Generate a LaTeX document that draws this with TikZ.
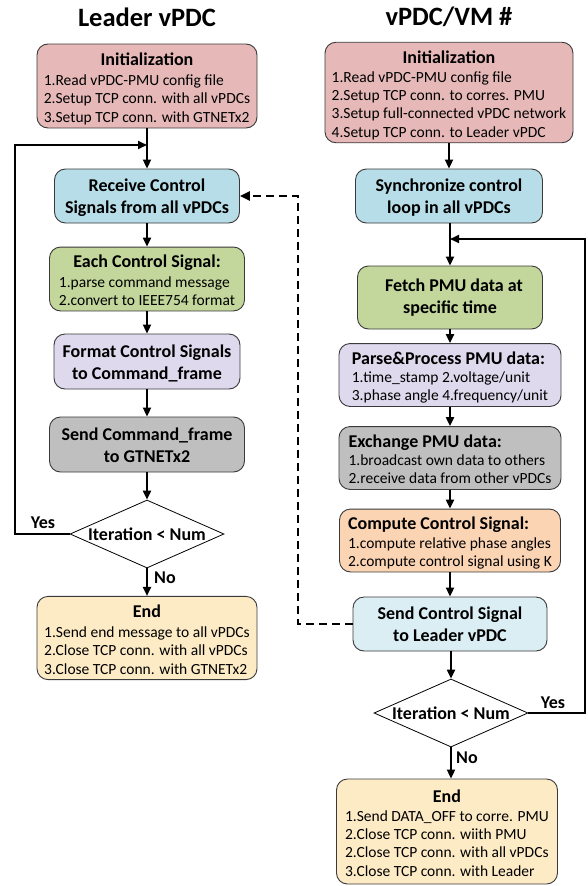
\documentclass[tikz,border=0pt]{standalone}
\usepackage{fontspec}
\setmainfont{Carlito}
\usetikzlibrary{arrows.meta,shapes.geometric}

\definecolor{boxline}{HTML}{3A3A3A}
\definecolor{cpink}{HTML}{E6B9B8}
\definecolor{cblue}{HTML}{B7DDE8}
\definecolor{clblue}{HTML}{DBEEF4}
\definecolor{cgreen}{HTML}{C3D69B}
\definecolor{clav}{HTML}{DED9EC}
\definecolor{cgray}{HTML}{BFBFBF}
\definecolor{cpeach}{HTML}{FBD4B4}
\definecolor{cyellow}{HTML}{FDEBC6}

% heading rows inside a list box (centred / flush left)
\newcommand\hd[1]{\multicolumn{1}{@{}c@{}}{\fontsize{18}{20}\selectfont\bfseries #1}}
\newcommand\hdl[1]{\multicolumn{1}{@{}l@{}}{\fontsize{18}{20}\selectfont\bfseries #1}}
% list body, set a little lower in its box
\newcommand\lst[1]{\raisebox{0pt}[\dimexpr\height+8pt\relax]{\begin{tabular}{@{}l@{}}#1\end{tabular}}}
% two bold lines, set a little lower in their box
\newcommand\two[2]{\raisebox{0pt}[\dimexpr\height+5pt\relax]{\begin{tabular}{@{}c@{}}#1\\#2\end{tabular}}}

\tikzset{
  stepbox/.style={draw=boxline, line width=0.9pt, rounded corners=11pt,
    inner sep=0pt, align=center},
  listbox/.style={stepbox, font=\fontsize{15.5}{18.3}\selectfont},
  boldbox/.style={stepbox, font=\fontsize{18}{22}\selectfont\bfseries},
  decision/.style={draw=black, line width=0.8pt, diamond, inner sep=0pt,
    minimum width=154pt, minimum height=68pt, fill=white,
    font=\fontsize{18}{20}\selectfont\bfseries},
  flow/.style={line width=2pt, -{Triangle[length=9pt,width=8pt]}},
  msg/.style={line width=2.5pt, dash pattern=on 8pt off 5pt,
    -{Triangle[length=10pt,width=9pt]}},
  lbl/.style={font=\fontsize{18}{20}\selectfont\bfseries, inner sep=0pt},
  ttl/.style={font=\fontsize{26.5}{30}\selectfont\bfseries, inner sep=0pt}
}

\begin{document}
\begin{tikzpicture}[x=1pt,y=-1pt]
\useasboundingbox (0,0) rectangle (587,886);

% ---------------- Leader vPDC ----------------
\node[ttl] (tL) at (147,17) {Leader vPDC};

\node[listbox, fill=cpink, minimum width=220pt, minimum height=84pt] (initL) at (147,86)
  {\lst{\hd{Initialization\hspace{10pt}}\\[2pt]
   1.Read vPDC-PMU config file\\
   2.Setup TCP conn. with all vPDCs\\
   3.Setup TCP conn. with GTNETx2}};

\node[boldbox, fill=cblue, minimum width=185pt, minimum height=54pt] (recv) at (147,196)
  {\two{Receive Control}{Signals from all vPDCs}};

\node[listbox, fill=cgreen, minimum width=195pt, minimum height=54pt] (each) at (147,279)
  {\lst{\hd{Each Control Signal:}\\[1pt]
   1.parse command message\\
   2.convert to IEEE754 format}};

\node[boldbox, fill=clav, minimum width=186pt, minimum height=55pt] (fmt) at (147,361.5)
  {\two{Format Control Signals}{to Command\_frame}};

\node[boldbox, fill=cgray, minimum width=195pt, minimum height=55pt] (sendcmd) at (147,444.5)
  {\two{Send Command\_frame}{to GTNETx2}};

\node[decision] (decL) at (147,534) {\makebox[0pt]{Iteration < Num}};

\node[listbox, fill=cyellow, minimum width=220pt, minimum height=82pt] (endL) at (147,638)
  {\lst{\hd{End}\\[2pt]
   1.Send end message to all vPDCs\\
   2.Close TCP conn. with all vPDCs\\
   3.Close TCP conn. with GTNETx2}};

\coordinate (jL) at (147,145);
\draw[flow] (initL) -- (recv);
\draw[flow] (recv) -- (each);
\draw[flow] (each) -- (fmt);
\draw[flow] (fmt) -- (sendcmd);
\draw[flow] (sendcmd) -- (decL);
\draw[flow] (decL) -- (endL);
\draw[flow] (decL.west) -- (15,534) -- (15,145) -- (jL);
\node[lbl] (yesL) at (43,523) {Yes};
\node[lbl] (noL) at (165,578) {No};

% ---------------- vPDC/VM # ----------------
\node[ttl] (tR) at (449,17) {vPDC/VM \#};

\node[listbox, fill=cpink, minimum width=248pt, minimum height=97pt] (initR) at (449,92.5)
  {\lst{\hd{Initialization\hspace{40pt}}\\[1pt]
   1.Read vPDC-PMU config file\\
   2.Setup TCP conn. to corres. PMU\\
   3.Setup full-connected vPDC network\\
   4.Setup TCP conn. to Leader vPDC}};

\node[boldbox, fill=cblue, minimum width=187pt, minimum height=54pt] (sync) at (449,196)
  {\two{Synchronize control}{loop in all vPDCs}};

\node[boldbox, fill=cgreen, minimum width=185pt, minimum height=63pt] (fetch) at (450,297.5)
  {\hspace{8pt}Fetch PMU data at\\specific time};

\node[listbox, fill=clav, minimum width=222pt, minimum height=56pt] (parse) at (450,375)
  {\lst{\hdl{Parse\&Process PMU data:}\\[0pt]
   1.time\_stamp 2.voltage/unit\\
   3.phase angle 4.frequency/unit}};

\node[listbox, fill=cgray, minimum width=222pt, minimum height=54pt] (exch) at (450,458)
  {\lst{\hdl{Exchange PMU data:}\\[0pt]
   1.broadcast own data to others\\
   2.receive data from other vPDCs}};

\node[listbox, fill=cpeach, minimum width=221pt, minimum height=55pt] (comp) at (450,540.5)
  {\lst{\hdl{Compute Control Signal:}\\[0pt]
   1.compute relative phase angles\\
   2.compute control signal using K}};

\node[boldbox, fill=clblue, minimum width=194pt, minimum height=54pt] (sendcs) at (450,624)
  {Send Control Signal\\to Leader vPDC};

\node[decision] (decR) at (451,713) {\makebox[0pt]{Iteration < Num}};

\node[listbox, fill=cyellow, minimum width=221pt, minimum height=105pt] (endR) at (447,831.5)
  {\lst{\hd{End}\\[1pt]
   1.Send DATA\_OFF to corre. PMU\\
   2.Close TCP conn. wiith PMU\\
   2.Close TCP conn. with all vPDCs\\
   3.Close TCP conn. with Leader}};

\coordinate (jR) at (450,239);
\draw[flow] (initR.south -| sync.north) -- (sync);
\draw[flow] (sync.south -| fetch.north) -- (fetch);
\draw[flow] (fetch) -- (parse);
\draw[flow] (parse) -- (exch);
\draw[flow] (exch) -- (comp);
\draw[flow] (comp) -- (sendcs);
\draw[flow] (sendcs.south -| decR.north) -- (decR);
\draw[flow] (decR.south) -- (decR.south |- endR.north);
\draw[flow] (decR.east) -- (585,713) -- (585,239) -- (jR);
\node[lbl] (yesR) at (553,703) {Yes};
\node[lbl] (noR) at (467,758) {No};

% control signal sent to the leader
\draw[msg] (sendcs.west) -- (298,624) -- (298,196) -- (recv.east);
\end{tikzpicture}
\end{document}
